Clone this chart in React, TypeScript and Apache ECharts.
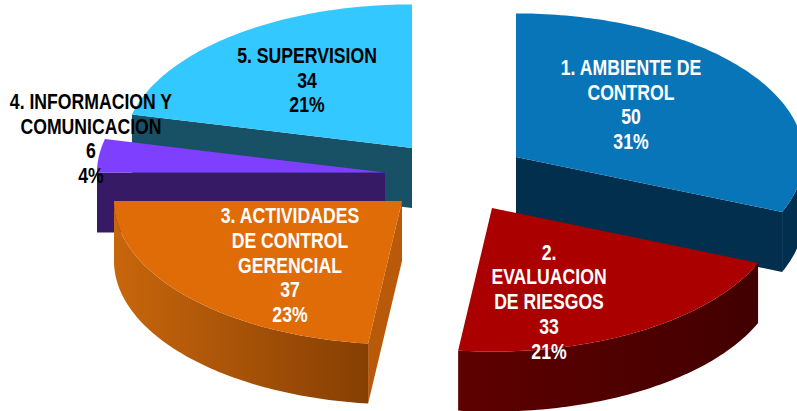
import React, { useEffect, useRef } from "react";
import * as echarts from "echarts";

const categories = [
  "1. AMBIENTE DE\nCONTROL",
  "2.\nEVALUACION\nDE RIESGOS",
  "3. ACTIVIDADES\nDE CONTROL\nGERENCIAL",
  "4. INFORMACION Y\nCOMUNICACION",
  "5. SUPERVISION",
];
const values = [50, 33, 37, 6, 34];
const drawOrder = [4, 3, 0, 2, 1];

const WIDTH = 797;
const HEIGHT = 411;
const RX = 288;
const RY = 143.6;
const DEPTH = 60;
const apexes = [[516, 157], [492, 208], [402, 201], [385, 172.6], [412, 148]];
const labelCenters = [[631, 104.5], [549, 301.5], [290, 265], [91, 138.5], [307, 80]];
const topColors = ["#0875b9", "#ab0000", "#e06c08", "#7f3fff", "#33c8ff"];
const faceColors = ["#022f4d", "#4a0000", "#b85a0a", "#371a66", "#185166"];
const wallFrom = ["#022f4d", "#5e0000", "#c8660c", "#371a66", "#185166"];
const wallTo = ["#022f4d", "#420000", "#863f03", "#371a66", "#185166"];
const labelColors = ["#ffffff", "#ffffff", "#ffffff", "#000000", "#000000"];

const total = values.reduce((a, b) => a + b, 0);

function angleRange(i: number): [number, number] {
  let sum = 0;
  for (let k = 0; k < i; k++) sum += values[k];
  return [(sum / total) * 360, ((sum + values[i]) / total) * 360];
}

function rimPoint(ax: number, ay: number, deg: number): number[] {
  const t = (deg * Math.PI) / 180;
  return [ax + RX * Math.sin(t), ay - RY * Math.cos(t)];
}

function arcPoints(ax: number, ay: number, a0: number, a1: number): number[][] {
  const out: number[][] = [];
  const n = Math.max(2, Math.ceil(Math.abs(a1 - a0)));
  for (let k = 0; k <= n; k++) out.push(rimPoint(ax, ay, a0 + ((a1 - a0) * k) / n));
  return out;
}

const renderItem = (_p: any, api: any) => {
  const i = api.value(0) as number;
  const [ax, ay] = apexes[i];
  const [a0, a1] = angleRange(i);
  const children: any[] = [];

  const face = (deg: number) => {
    const p = rimPoint(ax, ay, deg);
    children.push({
      type: "polygon",
      shape: { points: [[ax, ay], p, [p[0], p[1] + DEPTH], [ax, ay + DEPTH]] },
      style: { fill: faceColors[i] },
    });
  };
  if (a0 > 180 && a0 < 360) face(a0);
  if (a1 > 0 && a1 < 180) face(a1);

  const w0 = Math.max(a0, 90);
  const w1 = Math.min(a1, 270);
  if (w1 > w0) {
    const rim = arcPoints(ax, ay, w0, w1);
    const lower = rim.map((p) => [p[0], p[1] + DEPTH]).reverse();
    children.push({
      type: "polygon",
      shape: { points: rim.concat(lower) },
      style: {
        fill: new echarts.graphic.LinearGradient(0, 0, 1, 0, [
          { offset: 0, color: wallFrom[i] },
          { offset: 1, color: wallTo[i] },
        ]),
      },
    });
  }

  children.push({
    type: "polygon",
    shape: { points: [[ax, ay], ...arcPoints(ax, ay, a0, a1)] },
    style: { fill: topColors[i] },
  });

  const pct = Math.round((values[i] / total) * 100);
  children.push({
    type: "text",
    x: labelCenters[i][0],
    y: labelCenters[i][1],
    scaleX: 0.82,
    style: {
      text: `${categories[i]}\n${values[i]}\n${pct}%`,
      x: 0,
      y: 0,
      align: "center",
      verticalAlign: "middle",
      fill: labelColors[i],
      fontFamily: "'Liberation Sans', Arial, sans-serif",
      fontWeight: "bold",
      fontSize: 21.5,
      lineHeight: 24.7,
    },
  });

  return { type: "group", children };
};

export default function App() {
  const ref = useRef<HTMLDivElement>(null);
  useEffect(() => {
    document.body.style.margin = "0";
    const chart = echarts.init(ref.current!, undefined, { renderer: "svg" });
    chart.setOption({
      animation: false,
      backgroundColor: "#ffffff",
      series: [
        {
          type: "custom",
          coordinateSystem: "none",
          renderItem,
          data: drawOrder.map((i) => [i, values[i]]),
          silent: true,
        },
      ],
    });
    return () => chart.dispose();
  }, []);
  return <div ref={ref} style={{ width: WIDTH, height: HEIGHT, overflow: "hidden" }} />;
}
